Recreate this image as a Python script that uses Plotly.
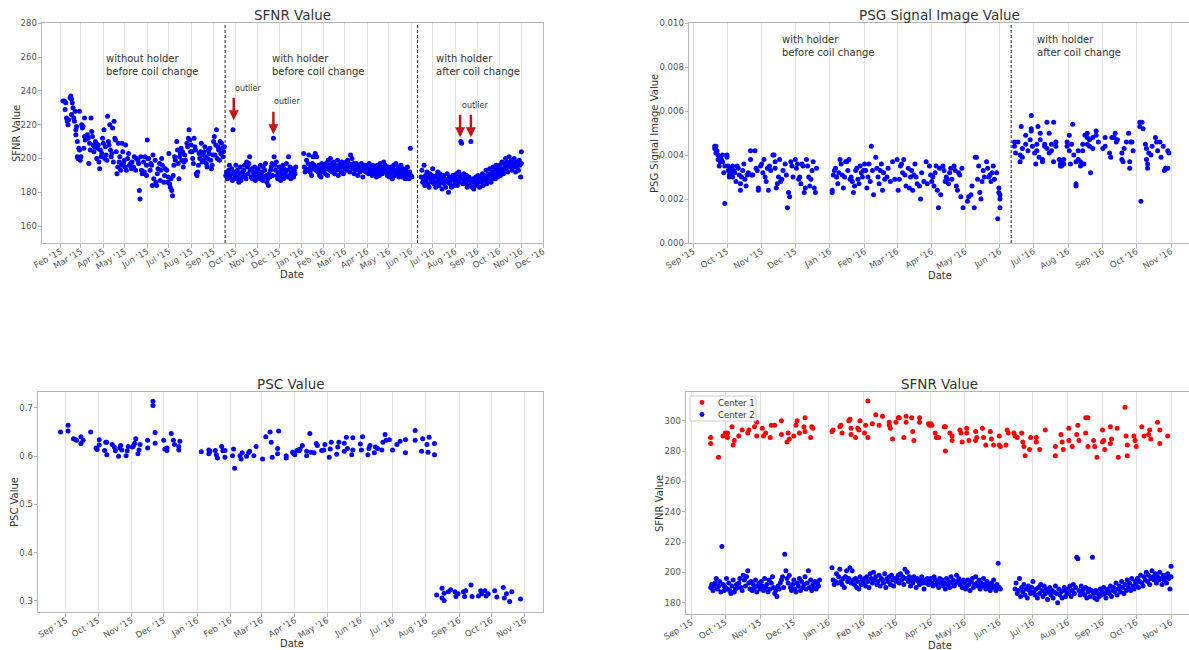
import pandas as pd
import plotly.graph_objects as go

BASE = pd.Timestamp("2015-01-01")  # day numbers below count days since this date

# ---------------- SFNR (top-left; Center 2 in bottom-right) ----------------
# without holder, before coil change
sfnr_day_a = [34,36,38,37,39,40,41,42,44,45,46,47,48,46,49,50,51,
    52,52,53,54,54,55,56,57,58,57,59,60,61,62,63,64,64,65,
    67,68,69,70,71,72,73,74,75,76,77,78,79,80,81,82,83,84,85,
    86,87,88,89,90,91,92,93,94,95,96,97,98,99,100,101,102,103,104,
    105,106,107,108,109,110,111,112,113,114,115,116,117,118,119,120,121,122,
    124,125,126,128,129,130,132,133,135,136,138,139,140,141,142,143,144,146,147,148,150,
    150,151,152,153,155,156,157,158,159,160,162,163,164,165,166,168,169,170,171,172,174,175,176,178,179,180,181,
    182,183,184,185,186,187,188,189,190,192,193,194,195,196,197,198,199,200,201,202,203,204,206,207,208,209,210,211,
    212,213,214,215,216,217,218,219,220,221,222,223,224,225,226,227,228,229,230,231,232,233,234,235,236,237,238,239,240,241,242,
    243,244,245,246,247,248,249,250,251,252,253,254,255,256,257,258]
sfnr_val_a = [234,234,233,229,224,222,220,223,236,237,235,233,230,226,224,222,228,
    217,214,219,210,201,200,206,205,199,228,201,220,218,219,206,224,213,211,
    212,214,212,197,209,205,224,216,213,208,204,207,210,209,200,206,208,198,194,
    205,201,203,212,209,217,200,207,202,199,225,210,208,220,205,201,203,218,198,
    222,212,211,204,191,195,209,198,201,193,196,209,204,197,199,195,208,193,
    200,203,196,197,194,198,195,201,193,200,199,197,181,176,201,193,191,198,192,201,190,
    196,211,200,200,193,197,196,184,202,188,199,186,184,191,194,197,187,193,200,196,186,190,194,193,186,189,203,
    185,183,188,181,178,190,196,201,199,210,205,197,188,201,203,206,199,204,195,198,202,199,209,207,212,217,211,204,
    208,204,200,197,212,207,205,191,190,192,196,203,200,204,209,198,202,199,204,207,201,197,195,200,205,203,206,199,194,196,202,
    210,213,202,208,217,200,207,205,199,210,203,209,206,201,204,207]

# with holder, before coil change
sfnr_day_b = [260,261,262,263,264,265,266,267,268,269,270,271,272,272,
    273,274,275,276,277,278,279,280,281,282,283,284,285,286,287,288,289,290,291,292,293,294,295,296,297,298,299,300,301,302,303,
    304,305,306,307,308,309,310,311,312,313,314,315,316,317,318,319,320,321,322,323,324,325,326,327,328,329,330,331,332,333,
    334,335,336,337,338,339,340,341,342,343,344,345,346,347,348,349,350,351,352,353,354,355,356,357,
    368,369,370,371,372,373,374,375,376,377,378,379,380,381,382,383,384,385,386,387,388,389,390,391,392,393,394,395,
    396,397,398,399,400,401,402,403,404,405,406,407,408,409,410,411,412,413,414,415,416,417,418,419,420,421,422,423,424,
    425,426,427,428,429,430,431,432,433,434,435,436,437,438,439,440,441,442,443,444,445,446,447,448,449,450,451,452,453,454,455,
    456,457,458,459,460,461,462,463,464,465,466,467,468,469,470,471,472,473,474,475,476,477,478,479,480,481,482,483,484,485,
    486,487,488,489,490,491,492,493,494,495,496,497,498,499,500,501,502,503,504,505,506,507,508,509,510,511,512,513,514,515,516,517,518]
sfnr_val_b = [190,192,188,191,193,196,189,191,194,187,217,192,188,191,
    190,196,189,193,188,186,191,195,187,189,192,190,193,196,190,188,198,195,191,197,201,193,189,194,188,192,190,195,187,191,193,
    189,194,191,188,196,190,192,187,195,189,193,197,190,186,188,184,191,189,193,195,197,190,212,201,196,193,198,190,188,192,
    195,189,187,193,191,196,188,194,190,192,197,189,193,201,190,195,188,192,190,194,189,193,191,195,
    203,195,192,194,199,193,197,202,194,192,196,190,197,201,194,196,203,193,201,195,192,196,190,194,189,197,192,195,
    193,196,191,197,194,190,199,196,193,200,195,197,192,194,198,191,196,195,193,199,190,196,194,197,192,198,195,191,196,
    194,196,198,193,199,195,197,192,202,196,200,194,197,191,195,193,197,195,190,196,194,192,195,197,193,189,195,193,196,192,194,
    196,193,191,197,195,192,194,190,196,193,195,191,193,189,196,192,194,190,197,193,195,191,193,198,194,196,192,194,190,195,
    193,189,191,195,192,188,194,196,190,192,197,193,191,195,189,193,191,196,192,189,194,190,192,188,193,190,195,191,188,192,206,190,189]

# with holder, after coil change
sfnr_day_c = [531,532,533,534,535,536,537,538,539,540,541,542,543,544,545,546,
    547,548,549,550,551,552,553,554,555,556,557,558,559,560,561,562,563,564,565,566,567,568,569,570,571,572,573,574,575,576,577,
    578,579,580,581,582,583,584,585,586,587,588,589,590,591,592,593,594,595,596,597,598,599,600,601,602,603,604,605,606,607,608,
    609,610,611,612,613,614,615,616,617,618,619,620,621,622,623,624,625,626,627,628,629,630,631,632,633,634,635,636,637,638,
    639,640,641,642,643,644,645,646,647,648,649,650,651,652,653,654,655,656,657,658,659,660,661,662,663,664,665,666,667,668,669,670,670]
sfnr_val_c = [189,193,186,188,196,184,190,187,192,185,189,183,191,188,186,190,
    194,187,185,189,183,190,186,192,188,184,191,186,189,182,187,190,185,188,183,187,191,186,180,189,185,187,183,188,190,184,187,
    189,186,191,184,188,192,186,190,210,209,188,185,191,187,189,185,190,183,187,189,184,188,210,186,183,188,182,186,184,189,185,
    187,190,186,183,188,189,186,191,184,188,190,187,193,185,189,191,187,194,190,186,192,188,195,190,193,188,196,191,189,194,
    192,196,190,194,198,193,191,197,195,200,194,198,192,196,201,197,195,199,193,197,195,200,196,192,198,195,197,193,199,196,189,204,197]

# ---------------- PSG signal image value (x 1e-3) ----------------
psg_day = [262,262,263,263,264,265,265,266,267,267,268,269,269,270,271,271,
    273,273,274,274,275,275,276,277,278,278,279,280,281,282,
    283,284,285,285,286,287,288,289,290,291,292,
    294,294,295,296,298,299,300,301,301,303,
    304,305,306,307,308,309,310,311,312,
    314,315,316,316,317,318,319,320,321,322,323,
    325,326,327,328,329,330,331,332,
    334,335,336,337,338,339,340,341,342,343,
    344,345,346,347,348,349,350,351,352,353,
    367,367,368,369,370,371,372,373,374,
    375,376,377,378,379,380,381,382,383,384,
    385,386,387,388,389,390,391,392,393,394,395,
    396,397,398,399,400,401,402,403,404,
    406,407,408,409,410,411,412,413,414,
    416,417,419,421,423,
    425,426,427,428,429,430,431,432,433,
    435,436,437,438,439,440,441,442,443,
    445,446,447,449,451,452,454,455,
    456,457,458,459,460,461,462,463,464,
    466,467,468,469,470,471,472,473,474,
    476,477,478,479,480,481,482,483,484,
    488,489,491,492,494,495,496,497,498,499,500,501,502,503,505,
    506,507,508,509,510,511,512,514,515,516,516,517,517,517,
    530,530,531,533,535,535,536,537,537,540,540,542,544,545,545,545,546,548,549,550,550,551,552,553,553,
    555,555,557,557,559,559,561,561,563,563,565,565,567,567,570,571,571,572,572,574,574,577,577,
    579,579,580,581,582,583,585,585,585,587,587,589,589,591,591,592,593,595,595,595,597,597,598,600,600,603,603,605,
    609,611,611,615,616,617,619,620,621,622,626,626,627,628,630,632,633,633,634,635,636,
    642,642,643,644,645,647,648,648,649,649,650,652,653,656,657,658,660,661,663,664,665,667,667,668]
psg_val = [4.4,4.3,4.1,4.4,4.2,4.0,3.8,3.5,3.7,3.9,3.8,3.7,4.0,3.2,3.5,1.8,
    4.0,3.9,3.5,3.3,3.0,3.1,3.4,3.2,3.5,3.0,3.3,3.2,2.8,3.5,
    3.4,3.1,2.7,2.4,3.0,3.3,3.6,2.9,2.6,3.1,3.2,
    4.2,3.8,3.1,3.1,4.2,3.4,3.3,2.5,2.4,3.5,
    3.6,3.2,3.8,3.0,2.8,3.4,2.4,3.5,3.3,
    4.0,4.0,3.7,3.4,2.5,2.7,3.0,3.8,2.8,2.9,3.3,
    3.6,3.1,1.6,2.3,2.1,3.7,3.5,3.0,
    3.8,3.4,3.6,2.9,3.0,2.7,3.6,3.5,2.3,2.5,
    3.8,3.5,3.0,2.6,2.9,3.3,3.7,2.5,2.3,3.4,
    2.4,2.3,3.1,3.3,3.4,3.0,2.7,3.2,3.8,
    3.6,3.1,2.5,3.0,3.7,3.7,3.3,3.8,2.9,3.0,
    2.8,2.3,2.6,3.3,3.4,2.9,2.7,3.5,3.2,3.0,3.3,
    3.6,3.3,2.5,3.0,3.6,2.8,4.4,3.3,2.2,
    3.9,3.4,3.0,2.7,3.3,3.6,2.4,3.2,2.9,
    3.0,3.4,2.8,3.7,2.9,
    3.8,2.4,2.9,3.5,3.6,3.2,3.8,3.1,2.6,
    3.4,2.5,3.0,3.3,2.4,3.1,3.6,3.0,2.7,
    2.6,2.0,3.2,2.8,3.7,2.7,3.5,3.1,
    2.8,3.0,2.6,3.2,3.5,2.4,1.6,3.4,2.2,
    3.5,3.3,2.8,3.0,2.9,2.7,3.2,3.4,2.9,
    3.5,3.3,2.6,2.4,3.2,3.1,2.1,3.4,1.6,
    1.9,2.1,2.2,2.6,1.6,3.9,3.9,2.9,3.5,2.3,2.0,2.8,3.3,3.0,3.7,
    3.4,3.0,3.1,2.8,3.2,3.5,2.9,3.2,1.1,2.3,2.5,2.2,1.6,2.0,
    4.6,4.4,4.1,4.6,4.0,3.7,5.3,3.9,4.3,4.9,4.5,4.2,4.7,5.1,5.2,5.8,4.4,4.1,3.6,4.5,4.2,5.3,3.9,5.0,4.7,
    3.8,3.7,4.5,4.4,5.5,4.3,4.1,5.0,4.5,4.2,5.5,3.7,4.4,4.6,3.8,3.5,3.6,3.7,3.5,3.8,3.6,4.4,4.6,
    4.9,4.2,3.6,4.5,5.4,4.0,2.7,2.6,3.7,4.2,3.8,3.7,3.5,4.5,4.2,3.6,4.9,4.8,4.5,5.0,4.7,4.4,3.2,4.8,4.3,4.9,5.1,4.6,
    4.3,4.8,4.4,4.1,3.9,4.8,4.8,5.0,4.6,4.7,4.1,3.8,3.7,4.3,4.6,5.0,3.7,3.4,4.6,4.6,4.2,
    5.5,5.3,1.9,5.5,5.2,4.5,4.3,3.8,3.6,3.4,4.1,4.0,4.4,4.8,4.6,4.2,4.6,3.9,4.4,3.3,3.4,4.2,3.4,4.1]

# ---------------- PSC value ----------------
psc_day = [238,245,245,250,252,253,257,257,259,266,271,272,274,274,279,280,281,281,286,288,289,
    292,293,294,295,299,300,301,305,306,307,308,310,311,312,319,319,324,324,326,326,
    334,335,337,337,341,343,344,348,348,349,
    369,376,376,377,382,383,384,388,389,391,391,398,399,400,405,406,407,411,413,414,418,420,
    426,429,433,434,435,440,440,441,448,448,454,455,456,458,459,460,461,463,467,467,470,471,
    474,476,477,481,483,484,488,489,490,495,496,497,502,502,504,505,509,510,510,517,518,519,
    524,525,526,530,531,533,537,538,540,541,544,547,551,554,559,559,568,568,574,575,579,580,581,586,586,
    588,593,593,595,595,599,601,605,606,608,613,614,615,620,621,627,629,630,633,634,636,
    642,644,650,651,653,656,658,666]
psc_val = [0.650,0.664,0.652,0.636,0.634,0.633,0.640,0.626,0.633,0.650,0.617,0.614,0.634,0.623,0.612,0.629,0.629,0.603,0.624,0.619,0.611,
    0.600,0.617,0.622,0.613,0.601,0.611,0.620,0.619,0.622,0.627,0.636,0.605,0.613,0.624,0.633,0.617,0.714,0.705,0.627,0.649,
    0.633,0.615,0.617,0.612,0.647,0.633,0.624,0.620,0.613,0.631,
    0.609,0.613,0.605,0.610,0.612,0.603,0.596,0.620,0.611,0.598,0.612,0.601,0.615,0.575,0.601,0.594,0.607,0.600,0.607,0.610,0.601,0.620,
    0.594,0.640,0.650,0.629,0.598,0.616,0.605,0.652,0.601,0.596,0.608,0.605,0.603,0.612,0.613,0.611,0.615,0.622,0.610,0.601,0.647,0.608,
    0.607,0.626,0.622,0.612,0.613,0.624,0.598,0.615,0.629,0.604,0.619,0.629,0.610,0.627,0.639,0.616,0.603,0.613,0.638,0.625,0.613,0.640,
    0.603,0.616,0.622,0.607,0.619,0.616,0.613,0.629,0.645,0.633,0.634,0.613,0.624,0.631,0.607,0.634,0.653,0.633,0.610,0.636,0.624,0.608,0.639,0.626,0.603,
    0.312,0.326,0.306,0.316,0.301,0.319,0.323,0.319,0.309,0.315,0.319,0.309,0.321,0.333,0.309,0.310,0.321,0.315,0.321,0.310,0.315,
    0.321,0.308,0.328,0.306,0.315,0.299,0.319,0.304]

# ---------------- SFNR Center 1 ----------------
c1_day = [260,260,267,271,273,274,275,275,279,280,281,285,288,293,294,299,301,301,306,307,309,313,314,317,
    323,323,328,329,330,334,336,337,339,343,344,344,349,350,351,
    368,369,375,376,377,383,384,385,385,389,391,392,393,397,398,400,400,404,407,410,413,419,419,420,422,425,427,
    428,432,434,434,439,440,441,446,446,454,455,456,457,460,461,463,468,469,469,473,475,475,482,483,484,
    488,488,490,496,496,497,502,503,505,509,510,512,517,517,518,523,524,525,530,531,533,537,538,539,540,544,545,
    550,550,553,558,567,567,572,573,574,579,579,582,586,587,588,594,596,594,596,601,602,604,
    609,609,610,611,616,616,617,622,623,629,630,631,631,637,638,639,644,646,650,651,652,658,660,660,667]
c1_val = [289,285,276,290,292,290,292,289,296,284,287,290,294,292,294,296,299,290,295,290,292,289,297,297,
    300,291,286,292,288,290,297,300,292,296,302,293,289,296,295,
    293,294,296,297,292,300,301,295,291,289,295,294,300,292,297,313,289,298,304,297,303,297,299,295,288,299,302,
    302,289,303,299,302,293,287,302,299,298,297,298,297,292,289,289,296,280,296,292,290,287,294,292,286,
    295,292,287,293,287,289,295,289,284,293,288,284,290,284,283,284,294,292,292,290,289,292,286,283,277,281,289,
    289,286,281,294,283,277,291,286,281,295,287,283,291,297,287,302,302,292,283,287,283,276,
    294,286,287,281,296,285,288,295,276,309,290,284,277,290,287,283,296,290,291,294,288,299,294,285,290]

legend_names = ["Center 1", "Center 2"]

for a, b in [(sfnr_day_a, sfnr_val_a), (sfnr_day_b, sfnr_val_b), (sfnr_day_c, sfnr_val_c),
             (psg_day, psg_val), (psc_day, psc_val), (c1_day, c1_val)]:
    assert len(a) == len(b), (len(a), len(b))


def to_dates(days):
    return [BASE + pd.Timedelta(days=int(n)) for n in days]


def d(n):
    return (BASE + pd.Timedelta(days=n)).strftime("%Y-%m-%d")


W, H = 1189, 650


def px(x):
    return x / W


def py(y):
    return 1 - y / H


FONT = "DejaVu Sans"
BLUE = "#0000ff"
RED = "#ff0000"
MK = dict(size=5, color=BLUE, line=dict(width=0))

fig = go.Figure()

sfnr_days = sfnr_day_a + sfnr_day_b + sfnr_day_c
sfnr_vals = sfnr_val_a + sfnr_val_b + sfnr_val_c
fig.add_trace(go.Scatter(x=to_dates(sfnr_days), y=sfnr_vals, mode="markers", marker=MK,
                         xaxis="x", yaxis="y", showlegend=False))
fig.add_trace(go.Scatter(x=to_dates(psg_day), y=[v / 1000 for v in psg_val], mode="markers", marker=MK,
                         xaxis="x2", yaxis="y2", showlegend=False))
fig.add_trace(go.Scatter(x=to_dates(psc_day), y=psc_val, mode="markers", marker=MK,
                         xaxis="x3", yaxis="y3", showlegend=False))
fig.add_trace(go.Scatter(x=to_dates(c1_day), y=c1_val, mode="markers", name=legend_names[0],
                         marker=dict(size=5, color=RED, line=dict(width=0)), xaxis="x4", yaxis="y4",
                         showlegend=False))
c2_days = sfnr_day_b + sfnr_day_c
c2_vals = sfnr_val_b + sfnr_val_c
fig.add_trace(go.Scatter(x=to_dates(c2_days), y=c2_vals, mode="markers", name=legend_names[1],
                         marker=MK, xaxis="x4", yaxis="y4", showlegend=False))

SPINE = "#b5b5b5"
GRID = "#e2e2e2"
TICKF = dict(family=FONT, size=8.5, color="#555555")


def xax(domain, anchor, rng, mirror=True):
    return dict(domain=domain, anchor=anchor, type="date", range=rng, dtick="M1", tick0="2015-01-01",
                tickformat="%b '%y", tickangle=-30, showgrid=True, gridcolor=GRID, gridwidth=1,
                showline=True, linecolor=SPINE, linewidth=1, mirror=mirror, ticks="outside", ticklen=3.5,
                tickcolor=SPINE, tickfont=TICKF, zeroline=False, automargin=False,
                ticklabelstandoff=-4)


def yax(domain, anchor, rng, dtick, fmt=None, mirror=True):
    a = dict(domain=domain, anchor=anchor, range=rng, dtick=dtick, tick0=0, showgrid=False,
             showline=True, linecolor=SPINE, linewidth=1, mirror=mirror, ticks="outside", ticklen=3.5,
             tickcolor=SPINE, tickfont=TICKF, zeroline=False, automargin=False,
             ticklabelstandoff=-1)
    if fmt:
        a["tickformat"] = fmt
    return a


top_dom = [py(243), py(23.3)]
bot_dom_l = [py(612), py(392)]
bot_dom_r = [py(614), py(392)]

fig.update_layout(
    width=W, height=H, autosize=False,
    margin=dict(l=0, r=0, t=0, b=0, pad=0),
    paper_bgcolor="white", plot_bgcolor="white",
    font=dict(family=FONT, color="#333333"),
    showlegend=False,
    xaxis=xax([px(42), px(543)], "y", [d(5), d(700)]),
    yaxis=yax(top_dom, "x", [150, 280], 20),
    xaxis2=xax([px(689), 1.0], "y2", [d(239), d(686)]),
    yaxis2=yax(top_dom, "x2", [0, 0.010], 0.002, ".3f", mirror=False),
    xaxis3=xax([px(38), px(543)], "y3", [d(217), d(687)]),
    yaxis3=yax(bot_dom_l, "x3", [0.277, 0.733], 0.1, ".1f"),
    xaxis4=xax([px(686), 1.0], "y4", [d(238), d(686)]),
    yaxis4=yax(bot_dom_r, "x4", [172.5, 319], 20, mirror=False),
)

# vertical dashed separators
for xr, yr, day in [("x", "y domain", 259), ("x", "y domain", 526), ("x2", "y2 domain", 527)]:
    fig.add_shape(type="line", xref=xr, yref=yr, x0=d(day), x1=d(day), y0=0, y1=1,
                  line=dict(color="#222222", width=1, dash="3px,2px"))

# legend box (bottom-right panel)
fig.add_shape(type="rect", xref="paper", yref="paper", x0=px(690), x1=px(756), y0=py(421), y1=py(396),
              line=dict(color="#cccccc", width=1), fillcolor="rgba(255,255,255,0.85)", layer="above")
for col, yy in [(RED, 402.5), (BLUE, 414.5)]:
    fig.add_shape(type="circle", xref="paper", yref="paper", xsizemode="pixel", ysizemode="pixel",
                  xanchor=px(702), yanchor=py(yy), x0=-2.4, x1=2.4, y0=-2.4, y1=2.4,
                  line=dict(width=0), fillcolor=col, layer="above")

ann = []
TXT = dict(family=FONT, color="#333333")
for name, yy in zip(legend_names, [402.5, 414.5]):
    ann.append(dict(text=name, x=px(716), y=py(yy), xref="paper", yref="paper", showarrow=False,
                    xanchor="left", yanchor="middle", font=dict(TXT, size=8.5)))
# titles
for text, x, y in [("SFNR Value", 292, 15), ("PSG Signal Image Value", 939, 15),
                   ("PSC Value", 291, 384), ("SFNR Value", 939, 384)]:
    ann.append(dict(text=text, x=px(x), y=py(y), xref="paper", yref="paper", showarrow=False,
                    xanchor="center", yanchor="middle", font=dict(TXT, size=13.5)))
# axis titles
for text, x, y in [("Date", 292, 274), ("Date", 940, 275), ("Date", 292, 643), ("Date", 940, 645)]:
    ann.append(dict(text=text, x=px(x), y=py(y), xref="paper", yref="paper", showarrow=False,
                    xanchor="center", yanchor="middle", font=dict(TXT, size=10)))
for text, x, y in [("SFNR Value", 16, 134), ("PSG Signal Image Value", 654, 134),
                   ("PSC Value", 14, 502), ("SFNR Value", 659, 503)]:
    ann.append(dict(text=text, x=px(x), y=py(y), xref="paper", yref="paper", showarrow=False,
                    textangle=-90, xanchor="center", yanchor="middle", font=dict(TXT, size=10)))
# region labels
for text, xr, yr, day, val in [
        ("without holder<br>before coil change", "x", "y", 91, 255.5),
        ("with holder<br>before coil change", "x", "y", 321, 255.5),
        ("with holder<br>after coil change", "x", "y", 549, 255.5),
        ("with holder<br>before coil change", "x2", "y2", 320, 0.00898),
        ("with holder<br>after coil change", "x2", "y2", 548, 0.00898)]:
    ann.append(dict(text=text, x=d(day), y=val, xref=xr, yref=yr, showarrow=False, align="left",
                    xanchor="left", yanchor="middle", font=dict(TXT, size=10)))
# outlier labels
for day, val in [(271, 241.6), (326, 233.9), (586, 231.5)]:
    ann.append(dict(text="outlier", x=d(day), y=val, xref="x", yref="y", showarrow=False,
                    xanchor="left", yanchor="middle", xshift=-1, font=dict(TXT, size=8)))
# red arrows
for day, val in [(271, 222.6), (326, 214.3), (585, 212.6), (600, 212.6)]:
    ann.append(dict(text="", x=d(day), y=val, xref="x", yref="y", showarrow=True, ax=0, ay=-24,
                    arrowhead=2, arrowsize=0.8, arrowwidth=2.5, arrowcolor="#c41414"))

fig.update_layout(annotations=ann)

fig.write_html("out.html", config={"displayModeBar": False},
               post_script="document.body.style.margin='0px';")
